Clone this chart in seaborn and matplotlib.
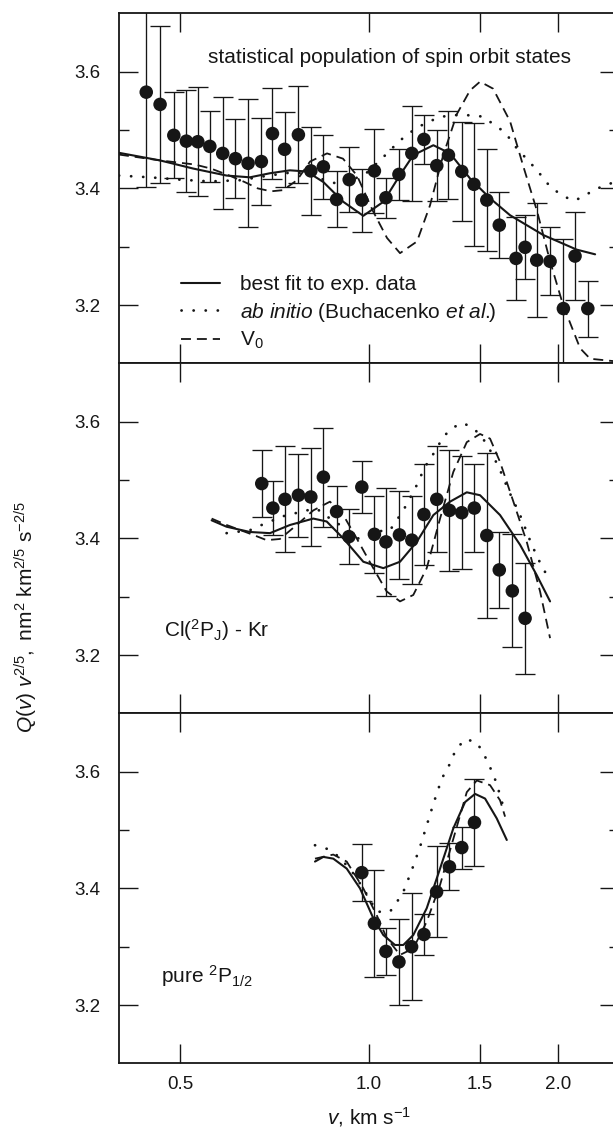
import matplotlib
matplotlib.use("Agg")
import matplotlib.pyplot as plt
import seaborn as sns
from matplotlib import font_manager
from matplotlib.lines import Line2D
from matplotlib.ticker import FixedLocator, NullLocator, FixedFormatter, NullFormatter

# ---------------- data ----------------
x_ticks = [0.5, 1.0, 1.5, 2.0]
x_tick_labels = ["0.5", "1.0", "1.5", "2.0"]
y_major = [3.2, 3.4, 3.6]
y_major_labels = ["3.2", "3.4", "3.6"]
y_minor = [3.3, 3.5]

# panel 1: statistical population
top_v = [0.442, 0.465, 0.489, 0.512, 0.534, 0.558, 0.585, 0.613, 0.642, 0.674, 0.702, 0.734,
         0.772, 0.808, 0.846, 0.888, 0.930, 0.974, 1.020, 1.064, 1.116, 1.170, 1.223, 1.282,
         1.338, 1.405, 1.469, 1.540, 1.612, 1.714, 1.772, 1.849, 1.942, 2.039, 2.128, 2.230]
top_q = [3.565, 3.544, 3.491, 3.481, 3.480, 3.472, 3.460, 3.451, 3.443, 3.446, 3.494, 3.467,
         3.492, 3.430, 3.437, 3.381, 3.415, 3.380, 3.430, 3.384, 3.424, 3.460, 3.484, 3.439,
         3.457, 3.429, 3.407, 3.380, 3.337, 3.280, 3.299, 3.277, 3.275, 3.194, 3.284, 3.194]
top_err = [0.162, 0.134, 0.074, 0.087, 0.093, 0.061, 0.096, 0.068, 0.110, 0.075, 0.078, 0.064,
           0.083, 0.076, 0.055, 0.048, 0.056, 0.054, 0.072, 0.034, 0.044, 0.082, 0.042, 0.061,
           0.076, 0.085, 0.105, 0.087, 0.056, 0.071, 0.055, 0.098, 0.058, 0.119, 0.075, 0.048]

top_fit_v = [0.400, 0.4648, 0.5251, 0.5934, 0.6463, 0.6957, 0.7485, 0.7959, 0.8458, 0.9101, 0.9793,
             1.0539, 1.1204, 1.1762, 1.2661, 1.3459, 1.4482, 1.5585, 1.6770, 1.8946, 2.1415, 2.2905]
top_fit_q = [3.461, 3.448, 3.434, 3.422, 3.419, 3.426, 3.431, 3.429, 3.411, 3.377, 3.353,
             3.377, 3.423, 3.457, 3.474, 3.460, 3.417, 3.383, 3.354, 3.320, 3.295, 3.287]

top_abi_v = [0.400, 0.4479, 0.5000, 0.5582, 0.6232, 0.6831, 0.7485, 0.7908, 0.8356, 0.8828, 0.9158,
             0.9500, 0.9854, 1.0411, 1.0800, 1.1122, 1.1496, 1.1923, 1.2370, 1.2880, 1.3361, 1.3962,
             1.4643, 1.5189, 1.5872, 1.6467, 1.7208, 1.7914, 1.8515, 1.9419, 2.0292, 2.1126, 2.1917,
             2.2736, 2.3757, 2.4465]
top_abi_q = [3.422, 3.419, 3.415, 3.412, 3.414, 3.421, 3.427, 3.426, 3.417, 3.409, 3.407,
             3.417, 3.424, 3.448, 3.465, 3.479, 3.492, 3.504, 3.513, 3.521, 3.525, 3.526,
             3.525, 3.523, 3.508, 3.496, 3.468, 3.448, 3.431, 3.403, 3.388, 3.379, 3.385,
             3.397, 3.405, 3.410]

top_v0_v = [0.400, 0.4648, 0.5278, 0.5603, 0.5963, 0.6337, 0.6653, 0.6982, 0.7297, 0.7680, 0.8056,
            0.8574, 0.9090, 0.9570, 1.0148, 1.0683, 1.1204, 1.1923, 1.2506, 1.3118, 1.3808, 1.4482,
            1.5024, 1.5757, 1.6770, 1.7591, 1.8515, 1.9419, 2.0368, 2.1677, 2.2486, 2.4465]
top_v0_q = [3.458, 3.448, 3.441, 3.434, 3.423, 3.411, 3.400, 3.395, 3.397, 3.414, 3.446,
            3.460, 3.451, 3.422, 3.361, 3.315, 3.289, 3.309, 3.371, 3.456, 3.528, 3.568,
            3.583, 3.571, 3.515, 3.439, 3.361, 3.275, 3.200, 3.126, 3.108, 3.104]

# panel 2: Cl(2PJ) - Kr
mid_v = [0.675, 0.703, 0.735, 0.772, 0.808, 0.846, 0.888, 0.929, 0.974, 1.020, 1.064,
         1.118, 1.170, 1.223, 1.282, 1.343, 1.405, 1.471, 1.540, 1.612, 1.691, 1.772]
mid_q = [3.494, 3.452, 3.467, 3.474, 3.471, 3.505, 3.446, 3.403, 3.488, 3.407, 3.394,
         3.406, 3.397, 3.441, 3.467, 3.448, 3.444, 3.452, 3.405, 3.346, 3.310, 3.263]
mid_err = [0.058, 0.046, 0.091, 0.071, 0.084, 0.085, 0.044, 0.047, 0.044, 0.066, 0.092,
           0.076, 0.076, 0.086, 0.091, 0.104, 0.097, 0.076, 0.142, 0.065, 0.097, 0.095]

mid_fit_v = [0.5617, 0.5934, 0.6463, 0.6957, 0.7485, 0.8153, 0.8563, 0.9101, 0.9793, 1.0539,
             1.1204, 1.1912, 1.2661, 1.3459, 1.4310, 1.5024, 1.6166, 1.7397, 1.8493, 1.9419]
mid_fit_q = [3.431, 3.420, 3.411, 3.409, 3.423, 3.434, 3.429, 3.400, 3.360, 3.349,
             3.360, 3.394, 3.440, 3.463, 3.479, 3.474, 3.440, 3.389, 3.337, 3.292]

mid_abi_v = [0.5934, 0.6463, 0.6747, 0.7297, 0.7959, 0.8254, 0.8667, 0.8991, 0.9616, 1.0287,
             1.0800, 1.1340, 1.1838, 1.2282, 1.2584, 1.3133, 1.3543, 1.4100, 1.4660, 1.5118,
             1.5488, 1.6125, 1.6666, 1.7397, 1.8159, 1.8836, 1.9299]
mid_abi_q = [3.409, 3.414, 3.423, 3.438, 3.448, 3.451, 3.434, 3.423, 3.400, 3.412,
             3.414, 3.448, 3.485, 3.523, 3.540, 3.574, 3.589, 3.598, 3.589, 3.574,
             3.557, 3.520, 3.483, 3.440, 3.389, 3.352, 3.333]

mid_v0_v = [0.5617, 0.5934, 0.6542, 0.6871, 0.7215, 0.7672, 0.8153, 0.8667, 0.9101, 0.9559,
            1.0158, 1.0671, 1.1204, 1.1762, 1.2356, 1.2975, 1.3622, 1.4310, 1.5024, 1.5585,
            1.6166, 1.6975, 1.7828, 1.8720, 1.9419]
mid_v0_q = [3.434, 3.423, 3.406, 3.397, 3.399, 3.423, 3.448, 3.463, 3.440, 3.400,
            3.349, 3.309, 3.292, 3.303, 3.349, 3.434, 3.514, 3.565, 3.579, 3.571,
            3.531, 3.463, 3.394, 3.309, 3.229]

# panel 3: pure 2P1/2
bot_v = [0.974, 1.020, 1.064, 1.116, 1.169, 1.223, 1.281, 1.343, 1.405, 1.472]
bot_q = [3.427, 3.340, 3.292, 3.274, 3.300, 3.321, 3.394, 3.437, 3.470, 3.513]
bot_err = [0.049, 0.092, 0.040, 0.074, 0.092, 0.035, 0.078, 0.040, 0.036, 0.074]

bot_fit_v = [0.8204, 0.8458, 0.8773, 0.9215, 0.9676, 1.0158, 1.0539, 1.1000, 1.1340,
             1.1762, 1.2356, 1.2975, 1.3622, 1.4221, 1.4752, 1.5302, 1.5971, 1.6570]
bot_fit_q = [3.446, 3.454, 3.451, 3.434, 3.400, 3.349, 3.320, 3.303, 3.303,
             3.320, 3.366, 3.434, 3.503, 3.548, 3.562, 3.554, 3.520, 3.483]

bot_abi_v = [0.8204, 0.8563, 0.8884, 0.9327, 0.9793, 1.0287, 1.0800, 1.1067, 1.1340, 1.1695,
             1.2055, 1.2356, 1.2661, 1.3056, 1.3459, 1.3757, 1.4256, 1.4844, 1.5207, 1.5488,
             1.5773, 1.6009, 1.6208, 1.6406]
bot_abi_q = [3.474, 3.468, 3.457, 3.434, 3.400, 3.360, 3.360, 3.376, 3.394, 3.431,
             3.471, 3.508, 3.545, 3.588, 3.614, 3.639, 3.656, 3.650, 3.632, 3.614,
             3.595, 3.576, 3.554, 3.537]

bot_v0_v = [0.8204, 0.8773, 0.9215, 0.9793, 1.0287, 1.0671, 1.1204, 1.1762, 1.2356, 1.2975,
            1.3622, 1.4310, 1.4844, 1.5585, 1.6166, 1.6467]
bot_v0_q = [3.451, 3.458, 3.446, 3.400, 3.354, 3.315, 3.286, 3.297, 3.343, 3.406,
            3.485, 3.565, 3.585, 3.577, 3.551, 3.523]

legend_labels = ["best fit to exp. data",
                 r"$\mathit{ab\ initio}$ (Buchacenko $\mathit{et\ al.}\!\!$)",
                 r"V$_0$"]
panel_texts = ["statistical population of spin orbit states",
               r"Cl($^\mathrm{2}$P$_\mathrm{J}$) - Kr",
               r"pure $^\mathrm{2}$P$_\mathrm{1/2}$"]

# ---------------- style ----------------
sns.set_theme(style="ticks")
names = {f.name for f in font_manager.fontManager.ttflist}
BASE = "Liberation Sans" if "Liberation Sans" in names else "DejaVu Sans"
NARROW = "Liberation Sans Narrow" if "Liberation Sans Narrow" in names else BASE
plt.rcParams.update({
    "font.family": [BASE, "DejaVu Sans"],
    "mathtext.fontset": "custom",
    "mathtext.rm": BASE,
    "mathtext.it": BASE + ":italic",
    "mathtext.sf": NARROW,
    "mathtext.cal": NARROW + ":italic",
    "axes.facecolor": "white",
    "figure.facecolor": "white",
})

INK = "#161616"
W, H = 613, 1134
fig = plt.figure(figsize=(W / 100, H / 100), dpi=100)

fit_kw = dict(color=INK, lw=1.5, linestyle="-")
abi_kw = dict(color=INK, lw=2.0, linestyle=(0, (0.05, 4.3)), dash_capstyle="round")
v0_kw = dict(color=INK, lw=1.3, linestyle=(0, (5.5, 3.3)))

panels = [
    (top_v, top_q, top_err, top_fit_v, top_fit_q, top_abi_v, top_abi_q, top_v0_v, top_v0_q),
    (mid_v, mid_q, mid_err, mid_fit_v, mid_fit_q, mid_abi_v, mid_abi_q, mid_v0_v, mid_v0_q),
    (bot_v, bot_q, bot_err, bot_fit_v, bot_fit_q, bot_abi_v, bot_abi_q, bot_v0_v, bot_v0_q),
]

axes = []
for i, (pv, pq, pe, fv, fq, av, aq, dv, dq) in enumerate(panels):
    top_px = 13.4 + 350 * i
    ax = fig.add_axes([119 / W, 1 - (top_px + 350) / H, 500 / W, 350 / H])
    axes.append(ax)
    ax.set_xscale("log")
    sns.lineplot(x=av, y=aq, ax=ax, sort=False, estimator=None, legend=False, zorder=2, **abi_kw)
    sns.lineplot(x=dv, y=dq, ax=ax, sort=False, estimator=None, legend=False, zorder=2, **v0_kw)
    sns.lineplot(x=fv, y=fq, ax=ax, sort=False, estimator=None, legend=False, zorder=2, **fit_kw)
    ax.errorbar(pv, pq, yerr=pe, fmt="none", ecolor=INK, elinewidth=0.95,
                capsize=7.2, capthick=0.95, zorder=3)
    sns.scatterplot(x=pv, y=pq, ax=ax, s=95, color=INK, edgecolor="none", linewidth=0,
                    zorder=4, legend=False)

    ax.set_xlim(0.4, 2.5)
    ax.set_ylim(3.1, 3.7)
    ax.xaxis.set_major_locator(FixedLocator(x_ticks))
    ax.xaxis.set_minor_locator(NullLocator())
    if i == 2:
        ax.xaxis.set_major_formatter(FixedFormatter(x_tick_labels))
    else:
        ax.xaxis.set_major_formatter(NullFormatter())
    ax.xaxis.set_minor_formatter(NullFormatter())
    ax.yaxis.set_major_locator(FixedLocator(y_major))
    ax.yaxis.set_major_formatter(FixedFormatter(y_major_labels))
    ax.yaxis.set_minor_locator(FixedLocator(y_minor))
    ax.yaxis.set_minor_formatter(NullFormatter())
    ax.tick_params(which="major", direction="in", length=14, width=1.0, color=INK,
                   top=True, right=True, labelsize=13.5, labelcolor=INK)
    ax.tick_params(which="minor", direction="in", length=7.2, width=1.0, color=INK,
                   top=True, right=True)
    ax.tick_params(axis="y", which="major", pad=13.5)
    ax.tick_params(axis="x", which="major", pad=9)
    for s in ax.spines.values():
        s.set_linewidth(1.3)
        s.set_color(INK)
    ax.set_xlabel("")
    ax.set_ylabel("")

# panel annotations
axes[0].text(0.1776, 0.857, panel_texts[0], transform=axes[0].transAxes,
             fontsize=15, color=INK, ha="left", va="baseline")
axes[1].text(0.0905, 0.219, panel_texts[1], transform=axes[1].transAxes,
             fontsize=15, color=INK, ha="left", va="baseline")
axes[2].text(0.0838, 0.231, panel_texts[2], transform=axes[2].transAxes,
             fontsize=15, color=INK, ha="left", va="baseline")

# legend
handles = [Line2D([], [], **fit_kw), Line2D([], [], **abi_kw), Line2D([], [], **v0_kw)]
axes[0].legend(handles, legend_labels, loc="lower left", bbox_to_anchor=(0.1238, 0.035),
               frameon=False, fontsize=15, handlelength=1.9, handletextpad=0.95,
               labelspacing=0.3, borderpad=0, borderaxespad=0, labelcolor=INK)

# axis labels
fig.text(369 / W, 1 - 1117 / H, r"$\mathit{v}$, km s$^{-1}$", ha="center", va="center",
         fontsize=15, color=INK)
ylab = (r"$\mathcal{Q}\mathsf{(}\mathcal{v}\mathsf{)\ }\mathcal{v}^{\mathsf{2/5}}"
        r"\mathsf{,\ nm}^{\mathsf{2}}\mathsf{\ km}^{\mathsf{2/5}}\mathsf{\ s}^{\mathsf{-2/5}}$")
fig.text(26 / W, 1 - 617 / H, ylab, rotation=90, ha="center", va="center",
         fontsize=15, color=INK)

fig.savefig("out.png", dpi=100)
